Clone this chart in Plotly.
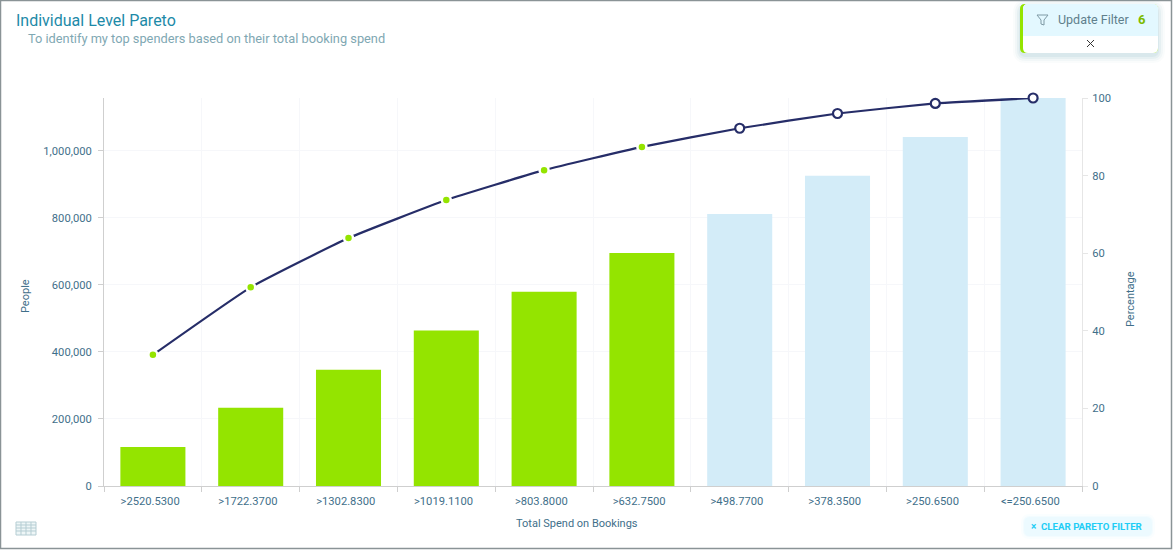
import plotly.graph_objects as go

categories = ['>2520.5300', '>1722.3700', '>1302.8300', '>1019.1100', '>803.8000',
              '>632.7500', '>498.7700', '>378.3500', '>250.6500', '<=250.6500']
people = [116000, 233000, 347000, 464000, 579000, 695000, 811000, 925000, 1041000, 1157000]
percentage = [33.8, 51.2, 63.9, 73.7, 81.4, 87.4, 92.2, 96.0, 98.6, 100]
selected = [True] * 6 + [False] * 4

GREEN = '#94e400'
LIGHT_BLUE = '#d3ecf8'
NAVY = '#262d68'
TICK = '#3f6f8a'
AXIS = '#cfcfcf'
GRID = '#f6f7fa'

# plot area in page pixels, everything drawn around the chart hangs off these
LEFT, RIGHT, TOP, BOTTOM = 104, 1082, 98, 486
W, H = 1173, 550


def px(x):
    return (x - LEFT) / (RIGHT - LEFT)


def py(y):
    return (BOTTOM - y) / (BOTTOM - TOP)


def rounded(x0, y0, x1, y1, r, fill):
    # rounded box as an svg path, pixel coords go through px/py like the rest
    pts = [
        f'M {px(x0 + r)} {py(y0)}', f'L {px(x1 - r)} {py(y0)}', f'Q {px(x1)} {py(y0)} {px(x1)} {py(y0 + r)}',
        f'L {px(x1)} {py(y1 - r)}', f'Q {px(x1)} {py(y1)} {px(x1 - r)} {py(y1)}',
        f'L {px(x0 + r)} {py(y1)}', f'Q {px(x0)} {py(y1)} {px(x0)} {py(y1 - r)}',
        f'L {px(x0)} {py(y0 + r)}', f'Q {px(x0)} {py(y0)} {px(x0 + r)} {py(y0)}', 'Z',
    ]
    return dict(type='path', xref='paper', yref='paper', path=' '.join(pts), fillcolor=fill,
                line=dict(width=0), layer='above')


def box(x0, y0, x1, y1, fill, line=None, width=0):
    return dict(type='rect', xref='paper', yref='paper', x0=px(x0), x1=px(x1), y0=py(y0), y1=py(y1),
                fillcolor=fill, line=dict(color=line or fill, width=width), layer='above')


def seg(x0, y0, x1, y1, color, width=1):
    return dict(type='line', xref='paper', yref='paper', x0=px(x0), x1=px(x1), y0=py(y0), y1=py(y1),
                line=dict(color=color, width=width), layer='above')


def label(x, y, text, color, size, anchor='left', angle=0):
    return dict(xref='paper', yref='paper', x=px(x), y=py(y), text=text, showarrow=False, xanchor=anchor,
                yanchor='middle', textangle=angle, borderpad=0, borderwidth=0,
                font=dict(color=color, size=size, family='Roboto'))


fig = go.Figure()
fig.add_trace(go.Bar(
    x=categories, y=people, marker=dict(color=[GREEN if s else LIGHT_BLUE for s in selected], line_width=0),
    width=0.665, showlegend=False
))
fig.add_trace(go.Scatter(
    x=categories, y=percentage, yaxis='y2', mode='lines+markers',
    line=dict(color=NAVY, width=2.2, shape='spline', smoothing=0.4),
    marker=dict(
        size=9, opacity=1,
        color=[GREEN if s else '#ffffff' for s in selected],
        line=dict(color=['#ffffff' if s else NAVY for s in selected], width=[2.5 if s else 2.2 for s in selected]),
    ),
    showlegend=False, cliponaxis=False
))

shapes = [dict(type='rect', xref='paper', yref='paper', x0=px(0.5), x1=px(W - 1.5), y0=py(548.5), y1=py(0.5),
               fillcolor='rgba(0,0,0,0)', line=dict(color='#8a9396', width=1.5), layer='above')]

# filter popup, shadow first
for grow, alpha in [(7, 0.03), (5, 0.05), (3, 0.07), (1, 0.09)]:
    shapes.append(rounded(1020 - grow, 4 - grow + 3, 1158 + grow, 53 + grow + 3, 6 + grow, f'rgba(90,150,175,{alpha})'))
shapes += [
    rounded(1020, 4, 1158, 53, 5, GREEN),
    rounded(1023, 4, 1158, 53, 5, '#ffffff'),
    rounded(1023, 4, 1158, 42, 5, '#e3f8ff'),
    box(1023, 36, 1158, 43, '#ffffff'),
    seg(1087, 40, 1094, 47, '#333333'),
    seg(1094, 40, 1087, 47, '#333333'),
]
# funnel icon
for a, b in [((1037, 15), (1048, 15)), ((1048, 15), (1044, 20)), ((1044, 20), (1044, 25)),
             ((1044, 25), (1041, 24)), ((1041, 24), (1041, 20)), ((1041, 20), (1037, 15))]:
    shapes.append(seg(a[0], a[1], b[0], b[1], '#7f9aa5'))

# table icon, bottom left
shapes.append(box(16, 522, 36, 535, '#eef6f7', '#b5cdd3', 1))
for gx in (21, 26, 31):
    shapes.append(seg(gx, 522, gx, 535, '#b5cdd3'))
for gy in (525, 528, 531):
    shapes.append(seg(16, gy, 36, gy, '#b5cdd3'))

# clear filter button
for grow, alpha in [(3, 0.25), (1, 0.5)]:
    shapes.append(rounded(1024 - grow, 517 - grow, 1152 + grow, 536 + grow, 6 + grow, f'rgba(236,250,255,{alpha})'))
shapes.append(rounded(1024, 517, 1152, 536, 6, '#ecfaff'))

annotations = [
    label(16, 20, 'Individual Level Pareto', '#1d8aa8', 16),
    label(28, 38.5, 'To identify my top spenders based on their total booking spend', '#7fa8b3', 12.8),
    label(1058, 19.5, 'Update Filter', '#5f7f8c', 12.5),
    label(1138, 19.5, '<b>6</b>', '#7dbb00', 13),
    label(1031, 526, '<b>×</b>', '#1fcdf5', 10),
    label(1041, 526.5, '<b>CLEAR PARETO FILTER</b>', '#1fcdf5', 9.7),
    label(577, 523, 'Total Spend on Bookings', TICK, 11, 'center'),
    label(25, 296, 'People', TICK, 11, 'center', -90),
    label(1130, 299, 'Percentage', TICK, 11, 'center', -90),
]

tick_font = dict(family='Roboto', size=11.2, color=TICK)
fig.update_layout(
    width=W, height=H, autosize=False, paper_bgcolor='#ffffff', plot_bgcolor='#ffffff',
    margin=dict(l=LEFT, r=W - RIGHT, t=TOP, b=H - BOTTOM, pad=0),
    shapes=shapes, annotations=annotations, bargap=0.335,
    xaxis=dict(
        type='category', range=[-0.5, 9.5], tickson='boundaries', ticks='outside', ticklen=5, tickcolor=AXIS,
        tickfont=tick_font, ticklabelstandoff=5, ticksuffix='\u00a0\u00a0',
        showline=True, linecolor=AXIS, linewidth=1, showgrid=True, gridcolor=GRID,
    ),
    yaxis=dict(
        range=[0, 1157000], tickvals=[0, 200000, 400000, 600000, 800000, 1000000], tickformat=',d',
        ticks='outside', ticklen=5, tickcolor=AXIS, tickfont=tick_font, ticklabelstandoff=4,
        showline=True, linecolor=AXIS, linewidth=1, showgrid=True, gridcolor=GRID, zeroline=False,
    ),
    yaxis2=dict(
        overlaying='y', side='right', range=[0, 100], tickvals=[0, 20, 40, 60, 80, 100],
        ticks='outside', ticklen=5, tickcolor='#e6e6e6', tickfont=tick_font, ticklabelstandoff=2,
        showline=True, linecolor='#e6e6e6', linewidth=1, showgrid=False, zeroline=False,
    ),
)

fig.write_html("out.html", config=dict(displayModeBar=False), post_script="document.body.style.margin='0';")
